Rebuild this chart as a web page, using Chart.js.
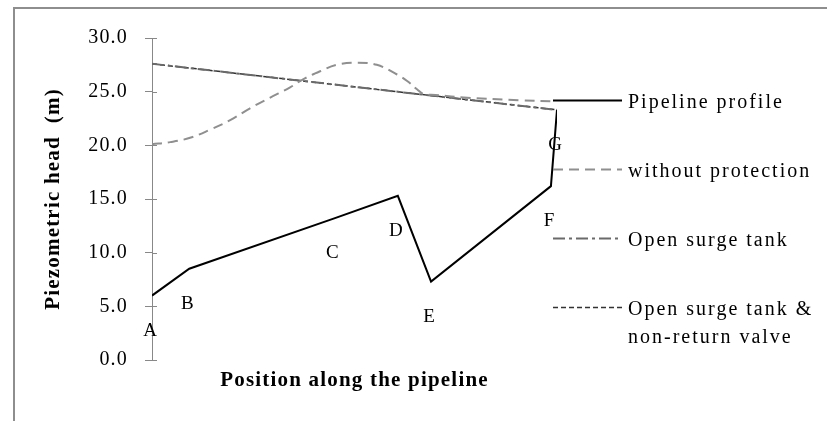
<!DOCTYPE html>
<html>
<head>
<meta charset="utf-8">
<title>Piezometric head along the pipeline</title>
<script src="https://cdn.jsdelivr.net/npm/chart.js@4/dist/chart.umd.min.js"></script>
<style>
  html, body { margin: 0; padding: 0; background: #fff; }
  #wrap { width: 827px; height: 421px; }
</style>
</head>
<body>
<div id="wrap"><canvas id="headChart" width="827" height="421"></canvas></div>
<script>
// stations along the pipeline (position in % of length) and profile head (m)
const stations = ["A", "B", "C", "D", "E", "F", "G"];
const profilePos = [0, 9.2, 45, 60.7, 68.9, 98.5, 100];
const profileHead = [6.0, 8.5, 13.2, 15.3, 7.3, 16.2, 23.3];

// maximum head envelope, no protection
const noProtPos = [0, 4.5, 9.4, 14.3, 19.3, 24.2, 29.2, 34.1, 37.3, 41.5, 45.6, 50.5, 55.5, 60.5, 63.0, 65.5, 67.0, 70, 77, 91, 99.1];
const noProtHead = [20.1, 20.3, 20.7, 21.45, 22.35, 23.45, 24.45, 25.4, 26.15, 26.9, 27.5, 27.7, 27.5, 26.6, 26.0, 25.2, 24.8, 24.7, 24.45, 24.2, 24.1];

// open surge tank, with and without non-return valve
const tankPos = [0, 100];
const tankHead = [27.6, 23.3];
const tankNrvPos = [0, 100];
const tankNrvHead = [27.6, 23.3];

const yTicks = [0, 5, 10, 15, 20, 25, 30];
const seriesNames = ["Pipeline profile", "without protection", "Open surge tank", "Open surge tank & non-return valve"];

const SERIF = "'Liberation Serif', 'Times New Roman', serif";
const toPoints = (xs, ys) => xs.map((x, i) => ({ x: x, y: ys[i] }));

// split a legend label into lines no wider than maxWidth
function wrapText(ctx, text, maxWidth) {
    const words = text.split(" ");
    const lines = [];
    let line = "";
    words.forEach(w => {
        const test = line ? line + " " + w : w;
        if (line && ctx.measureText(test).width > maxWidth) {
            lines.push(line);
            line = w;
        } else {
            line = test;
        }
    });
    if (line) lines.push(line);
    return lines;
}

/*** Frame + text spacing ***/
const chartFrame = {
    id: "chartFrame",
    beforeUpdate(chart) { chart.ctx.letterSpacing = "1.2px"; },
    beforeDraw(chart) {
        const ctx = chart.ctx;
        ctx.save();
        ctx.fillStyle = "#fff";
        ctx.fillRect(0, 0, chart.width, chart.height);
        ctx.strokeStyle = "#8e8e8e";
        ctx.lineWidth = 2;
        ctx.strokeRect(14, 8, chart.width, chart.height);
        ctx.restore();
        ctx.letterSpacing = "1.2px";
    }
};

/*** Station letters under the profile + inner tick stubs ***/
const stationLabels = {
    id: "stationLabels",
    afterDatasetsDraw(chart) {
        const { ctx, chartArea } = chart;
        const xs = chart.scales.x, ys = chart.scales.y;
        ctx.save();
        ctx.letterSpacing = "0px";
        ctx.font = "19px " + SERIF;
        ctx.fillStyle = "#000";
        ctx.textAlign = "center";
        ctx.textBaseline = "middle";
        stations.forEach((name, i) => {
            ctx.fillText(name, xs.getPixelForValue(profilePos[i]) - 2, ys.getPixelForValue(profileHead[i]) + 35);
        });

        ctx.strokeStyle = "#888";
        ctx.lineWidth = 1;
        ctx.beginPath();
        ys.ticks.forEach((t, i) => {
            const py = Math.round(ys.getPixelForTick(i)) + 0.5;
            ctx.moveTo(chartArea.left, py);
            ctx.lineTo(chartArea.left + 5, py);
        });
        ctx.stroke();
        ctx.restore();
    }
};

/*** Legend on the right ***/
const sideLegend = {
    id: "sideLegend",
    afterDraw(chart) {
        const ctx = chart.ctx;
        const x0 = chart.chartArea.right - 4, x1 = x0 + 69, tx = x1 + 6;
        ctx.save();
        ctx.font = "20px " + SERIF;
        ctx.letterSpacing = "2px";
        ctx.textBaseline = "middle";
        ctx.textAlign = "left";
        ctx.fillStyle = "#000";
        chart.data.datasets.forEach((ds, i) => {
            const ly = 100.5 + i * 69;
            ctx.beginPath();
            ctx.strokeStyle = ds.borderColor;
            ctx.lineWidth = ds.borderWidth;
            ctx.setLineDash(ds.borderDash || []);
            ctx.moveTo(x0, ly);
            ctx.lineTo(x1, ly);
            ctx.stroke();
            wrapText(ctx, ds.label, 195).forEach((line, k) => {
                ctx.fillText(line, tx, ly + 2 + k * 28);
            });
        });
        ctx.restore();
    }
};

new Chart(document.getElementById("headChart"), {
    type: "line",
    data: {
        datasets: [
            {
                label: seriesNames[0],
                data: toPoints(profilePos, profileHead),
                borderColor: "#000",
                borderWidth: 2,
                tension: 0
            },
            {
                label: seriesNames[1],
                data: toPoints(noProtPos, noProtHead),
                borderColor: "#8f8f8f",
                borderWidth: 2,
                borderDash: [10, 6],
                tension: 0.4
            },
            {
                label: seriesNames[2],
                data: toPoints(tankPos, tankHead),
                borderColor: "#6a6a6a",
                borderWidth: 2,
                borderDash: [12, 4, 3, 4],
                tension: 0
            },
            {
                label: seriesNames[3],
                data: toPoints(tankNrvPos, tankNrvHead),
                borderColor: "#333",
                borderWidth: 1.5,
                borderDash: [5, 3],
                tension: 0
            }
        ]
    },
    options: {
        responsive: false,
        animation: false,
        events: [],
        layout: { padding: { top: 38, right: 270, bottom: 0, left: 0 } },
        elements: { point: { radius: 0 } },
        plugins: { legend: { display: false }, tooltip: { enabled: false } },
        scales: {
            x: {
                type: "linear",
                min: 0,
                max: 100,
                grid: { display: false },
                border: { display: false },
                ticks: { display: false },
                title: {
                    display: true,
                    text: "Position along the pipeline",
                    color: "#000",
                    font: { family: SERIF, size: 21, weight: "bold" },
                    padding: { top: 0, bottom: 28 }
                },
                afterFit(scale) { scale.height = 61; }
            },
            y: {
                min: 0,
                max: 30,
                afterBuildTicks(scale) { scale.ticks = yTicks.map(v => ({ value: v })); },
                grid: { drawOnChartArea: false, drawTicks: true, tickLength: 7, color: "#888" },
                border: { display: true, color: "#888", width: 1 },
                ticks: {
                    color: "#000",
                    padding: 17,
                    font: { family: SERIF, size: 20 },
                    callback: v => v.toFixed(1)
                },
                title: {
                    display: true,
                    text: "Piezometric head  (m)",
                    color: "#000",
                    font: { family: SERIF, size: 21, weight: "bold" },
                    padding: { top: 41, bottom: 0 }
                },
                afterFit(scale) { scale.width = 152; }
            }
        }
    },
    plugins: [chartFrame, stationLabels, sideLegend]
});
</script>
</body>
</html>
